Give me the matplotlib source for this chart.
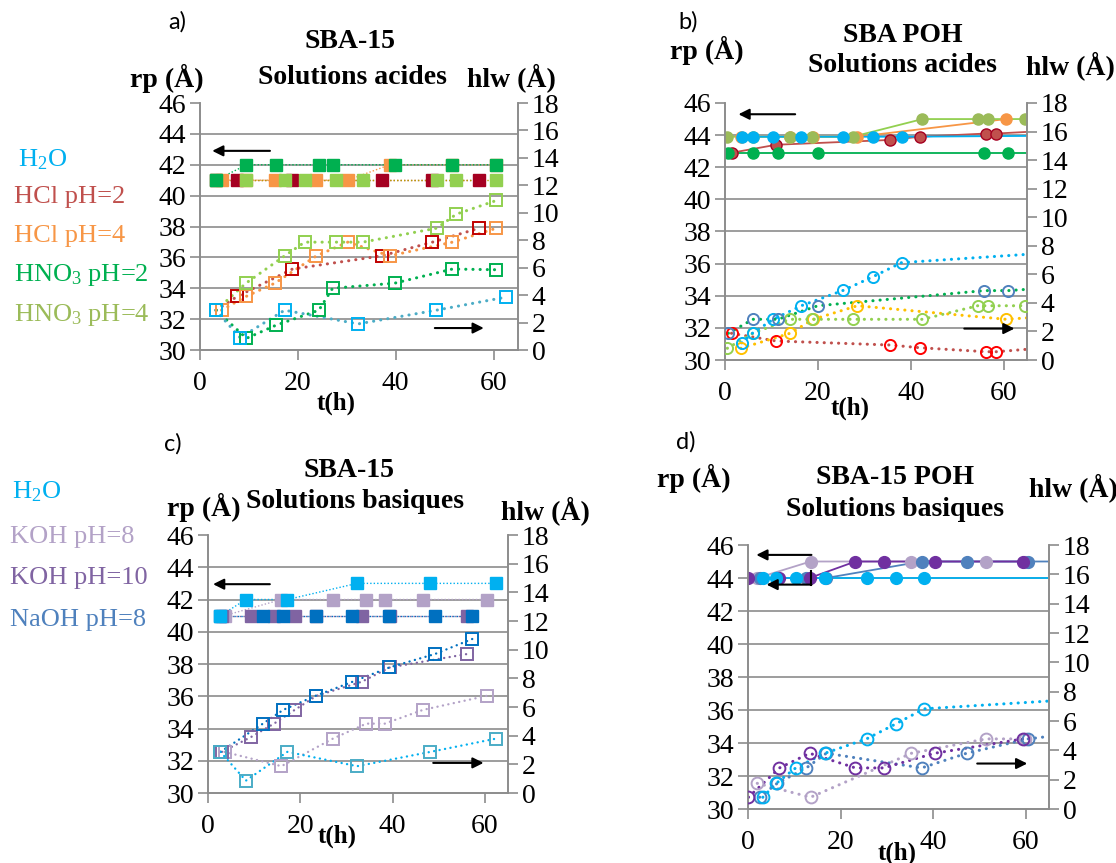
import matplotlib
matplotlib.use('Agg')
import matplotlib.pyplot as plt

plt.rcParams['font.family'] = ['Liberation Serif', 'DejaVu Serif']
plt.rcParams['font.serif'] = ['Liberation Serif', 'DejaVu Serif']
plt.rcParams['mathtext.fontset'] = 'custom'
plt.rcParams['mathtext.rm'] = 'Liberation Serif'
plt.rcParams['mathtext.it'] = 'Liberation Serif:italic'
plt.rcParams['mathtext.bf'] = 'Liberation Serif:bold'

# ---------------- DATA ----------------
T_MAX = 65
RP_TICKS = list(range(30, 47, 2))
HLW_TICKS = list(range(0, 19, 2))
T_TICKS = [0, 20, 40, 60]

# Panel a : SBA-15, acid solutions (squares)
a_h2o_t = [3.2, 8.2, 17.3, 32.3, 48.3, 62.5]
a_h2o_hlw = [2.9, 0.9, 2.9, 1.9, 2.9, 3.85]
a_hcl2_t = [3.3, 7.6, 18.9, 37.1, 47.5, 57.1]
a_hcl2_rp = [41, 41, 41, 41, 41, 41]
a_hcl2_hlw = [2.9, 3.9, 5.9, 6.86, 7.86, 8.88]
a_hcl4_t = [4.4, 9.4, 15.3, 23.8, 30.2, 38.8, 51.6, 60.6]
a_hcl4_rp = [41, 41, 41, 41, 41, 42, 42, 42]
a_hcl4_hlw = [2.9, 3.9, 4.87, 6.86, 7.86, 6.86, 7.86, 8.88]
a_hno32_t = [3.3, 9.5, 15.5, 24.3, 27.1, 39.8, 51.6, 60.6]
a_hno32_rp = [41, 42, 42, 42, 42, 42, 42, 42]
a_hno32_hlw = [2.9, 0.85, 1.8, 2.9, 4.5, 4.87, 5.9, 5.85]
a_hno34_t = [3.3, 9.4, 17.3, 21.4, 27.9, 33.3, 48.4, 52.4, 60.6]
a_hno34_rp = [41, 41, 41, 41, 41, 41, 41, 41, 41]
a_hno34_hlw = [2.9, 4.87, 6.86, 7.86, 7.86, 7.86, 8.88, 9.9, 10.9]

# Panel b : SBA POH, acid solutions (circles); *_end = trend value at T_MAX
b_h2o_t = [3.6, 6.0, 10.4, 16.4, 25.4, 31.9, 38.0]
b_h2o_rp = [43.9, 43.9, 43.9, 43.9, 43.9, 43.9, 43.9]
b_h2o_rp_end = 43.95
b_h2o_hlw = [1.2, 1.9, 2.85, 3.8, 4.87, 5.84, 6.82]
b_h2o_hlw_end = 7.4
b_hcl2_t = [1.4, 11.0, 35.5, 41.9, 56.2, 58.4]
b_hcl2_rp = [42.9, 43.4, 43.7, 43.9, 44.1, 44.1]
b_hcl2_rp_end = 44.2
b_hcl2_hlw = [1.87, 1.33, 1.05, 0.86, 0.58, 0.58]
b_hcl2_hlw_end = 0.75
b_hcl4_t = [3.4, 14.0, 19.0, 28.5, 60.5]
b_hcl4_rp = [43.9, 43.9, 43.9, 43.9, 45.0]
b_hcl4_hlw = [0.82, 1.87, 2.85, 3.8, 2.85]
b_hcl4_hlw_end = 2.95
b_hno32_t = [0.7, 6.0, 11.4, 20.0, 55.8, 60.9]
b_hno32_rp = [42.9, 42.9, 42.9, 42.9, 42.9, 42.9]
b_hno32_rp_end = 42.9
b_hno32_hlw = [1.87, 2.85, 2.85, 3.8, 4.86, 4.86]
b_hno32_hlw_end = 4.95
b_hno34_t = [0.5, 6.0, 13.9, 18.7, 27.5, 42.5, 54.4, 56.6, 64.5]
b_hno34_rp = [43.9, 43.9, 43.9, 43.9, 43.9, 45.0, 45.0, 45.0, 45.0]
b_hno34_hlw = [0.82, 1.87, 2.85, 2.85, 2.85, 2.85, 3.8, 3.8, 3.8]

# Panel c : SBA-15, basic solutions (squares)
c_h2o_t = [2.7, 8.2, 17.2, 32.3, 48.2, 62.5]
c_h2o_rp = [41, 42, 42, 43, 43, 43]
c_h2o_hlw = [2.87, 0.86, 2.87, 1.87, 2.87, 3.8]
c_koh8_t = [3.6, 15.9, 27.1, 34.3, 38.3, 46.6, 60.4]
c_koh8_rp = [41, 42, 42, 42, 42, 42, 42]
c_koh8_hlw = [2.87, 1.87, 3.8, 4.84, 4.84, 5.8, 6.78]
c_koh10_t = [3.0, 9.3, 14.3, 18.8, 23.5, 33.3, 39.4, 56.2]
c_koh10_rp = [41, 41, 41, 41, 41, 41, 41, 41]
c_koh10_hlw = [2.87, 3.9, 4.84, 5.8, 6.78, 7.76, 8.76, 9.7]
c_naoh8_t = [2.7, 11.9, 16.3, 23.3, 31.3, 39.3, 49.2, 57.3]
c_naoh8_rp = [41, 41, 41, 41, 41, 41, 41, 41]
c_naoh8_hlw = [2.87, 4.84, 5.8, 6.78, 7.76, 8.76, 9.7, 10.75]

# Panel d : SBA-15 POH, basic solutions (circles)
d_h2o_t = [3.2, 6.1, 10.3, 16.6, 25.6, 31.9, 38.0]
d_h2o_rp = [44, 44, 44, 44, 44, 44, 44]
d_h2o_rp_end = 44
d_h2o_hlw = [0.8, 1.75, 2.8, 3.8, 4.78, 5.8, 6.83]
d_h2o_hlw_end = 7.36
d_koh10_t = [0.1, 6.8, 13.3, 23.2, 29.3, 40.3, 59.4]
d_koh10_rp = [44, 44, 44, 45, 45, 45, 45]
d_koh10_hlw = [0.8, 2.8, 3.8, 2.8, 2.8, 3.8, 4.78]
d_koh8_t = [2.0, 13.5, 35.3, 51.4, 59.8]
d_koh8_rp = [44, 45, 45, 45, 45]
d_koh8_hlw = [1.75, 0.8, 3.8, 4.78, 4.78]
d_naoh8_t = [2.5, 6.3, 12.6, 16.9, 37.5, 47.2, 60.5]
d_naoh8_rp = [44, 44, 44, 44, 45, 45, 45]
d_naoh8_rp_end = 45
d_naoh8_hlw = [0.8, 1.75, 2.8, 3.8, 2.8, 3.8, 4.78]
d_naoh8_hlw_end = 4.95

# Arrows (axis, y, x_from, x_to)
a_arrows = [('rp', 42.9, 14.3, 2.5), ('hlw', 1.6, 48, 58)]
b_arrows = [('rp', 45.3, 15.1, 2.9), ('hlw', 2.2, 51.5, 62.3)]
c_arrows = [('rp', 42.95, 13.4, 1.1), ('hlw', 2.1, 48.8, 59.7)]
d_arrows = [('rp', 45.4, 13.7, 1.8), ('rp', 43.6, 13.7, 4.0), ('hlw', 3.1, 49.5, 60.3)]

# ---------------- FIGURE ----------------
W, H = 1116, 863
fig = plt.figure(figsize=(W / 100, H / 100), dpi=100)
GRAY = '#8c8c8c'
SERIF = ['Liberation Serif', 'DejaVu Serif']


def ftext(x, y, s, **kw):
    kw.setdefault('ha', 'center')
    kw.setdefault('va', 'center')
    kw.setdefault('family', SERIF)
    fig.text(x / W, 1 - y / H, s, **kw)


def setup(l, t, r, b):
    ax = fig.add_axes([l / W, 1 - b / H, (r - l) / W, (b - t) / H])
    ax.set_xlim(0, T_MAX)
    ax.set_ylim(RP_TICKS[0], RP_TICKS[-1])
    ax2 = ax.twinx()
    ax2.set_ylim(HLW_TICKS[0], HLW_TICKS[-1])
    ax.set_yticks(RP_TICKS)
    ax.set_yticklabels([str(v) for v in RP_TICKS], family=SERIF)
    ax2.set_yticks(HLW_TICKS)
    ax2.set_yticklabels([str(v) for v in HLW_TICKS], family=SERIF)
    ax.set_xticks(T_TICKS)
    ax.set_xticklabels([str(v) for v in T_TICKS], family=SERIF)
    for a in (ax, ax2):
        for s in a.spines.values():
            s.set_color(GRAY)
            s.set_linewidth(1.2)
        a.spines['top'].set_visible(False)
        a.tick_params(axis='both', direction='out', length=7, width=1.2,
                      color=GRAY, labelsize=20, pad=3)
    ax.tick_params(axis='x', pad=8)
    ax.hlines(RP_TICKS[1:-1], 0, T_MAX, color=GRAY, lw=1.2, zorder=0.5)
    return ax, ax2


def dotted(lw):
    return dict(linestyle=(0, (0.05, 2.3)), lw=lw, dash_capstyle='round')


def series(ax, ax2, t, rp, hlw, color, marker, rp_line, hlw_line,
           open_color=None, rp_end=None, hlw_end=None, filled_edge=None,
           rp_ls='dotted', hlw_lw=2.2, ms=9):
    oc = open_color or color
    if rp is not None:
        tt, yy = list(t), list(rp)
        if rp_end is not None:
            tt.append(T_MAX); yy.append(rp_end)
        if rp_ls == 'dotted':
            ax.plot(tt, yy, color=rp_line, linestyle=(0, (1, 1.5)), lw=1.0, zorder=2)
        else:
            ax.plot(tt, yy, color=rp_line, lw=1.3, zorder=2)
        ax.plot(t, rp, linestyle='none', marker=marker, ms=ms, color=color,
                mec=filled_edge or color, mew=1, zorder=3)
    if hlw is not None:
        tt, yy = list(t), list(hlw)
        if hlw_end is not None:
            tt.append(T_MAX); yy.append(hlw_end)
        ax2.plot(tt, yy, color=hlw_line, zorder=2, **dotted(hlw_lw))
        ax2.plot(t, hlw, linestyle='none', marker=marker, ms=ms, mfc='none',
                 mec=oc, mew=1.4, zorder=3)


def arrows(ax, ax2, lst):
    for which, y, x0, x1 in lst:
        a = ax if which == 'rp' else ax2
        a.annotate('', xy=(x1, y), xytext=(x0, y),
                   arrowprops=dict(arrowstyle='-|>', color='k', lw=1.5,
                                   mutation_scale=16, shrinkA=0, shrinkB=0),
                   zorder=5)


# ---- panel a ----
ax, ax2 = setup(200, 103, 518, 350)
series(ax, ax2, a_hcl2_t, a_hcl2_rp, a_hcl2_hlw, '#A50021', 's', '#C0504D', '#C0504D',
       open_color='#C00000')
series(ax, ax2, a_hcl4_t, a_hcl4_rp, a_hcl4_hlw, '#F79646', 's', '#F79646', '#F79646')
series(ax, ax2, a_hno34_t, a_hno34_rp, a_hno34_hlw, '#92D050', 's', '#B8A000', '#92D050',
       open_color='#92D050')
series(ax, ax2, a_hno32_t, a_hno32_rp, a_hno32_hlw, '#00B050', 's', '#00B050', '#00B050')
series(ax, ax2, a_h2o_t, None, a_h2o_hlw, '#00B0F0', 's', '#00B0F0', '#4BACC6',
       open_color='#00B0F0')
arrows(ax, ax2, a_arrows)

# ---- panel b ----
ax, ax2 = setup(725, 103, 1027, 360)
series(ax, ax2, b_hcl2_t, b_hcl2_rp, b_hcl2_hlw, '#C0504D', 'o', '#C0504D', '#C0504D',
       open_color='#FF0000', rp_end=b_hcl2_rp_end, hlw_end=b_hcl2_hlw_end,
       filled_edge='#A50021', rp_ls='solid', ms=8)
series(ax, ax2, b_hcl4_t, b_hcl4_rp, b_hcl4_hlw, '#F79646', 'o', '#F79646', '#FFC000',
       open_color='#FFC000', hlw_end=b_hcl4_hlw_end, rp_ls='solid', ms=8)
series(ax, ax2, b_hno34_t, b_hno34_rp, b_hno34_hlw, '#9BBB59', 'o', '#92D050', '#92D050',
       open_color='#92D050', rp_ls='solid', ms=8)
series(ax, ax2, b_h2o_t, b_h2o_rp, b_h2o_hlw, '#00B0F0', 'o', '#00B0F0', '#00B0F0',
       rp_end=b_h2o_rp_end, hlw_end=b_h2o_hlw_end, rp_ls='solid', ms=8)
series(ax, ax2, b_hno32_t, b_hno32_rp, b_hno32_hlw, '#00B050', 'o', '#00B050', '#00B050',
       open_color='#4F81BD', rp_end=b_hno32_rp_end, hlw_end=b_hno32_hlw_end,
       rp_ls='solid', ms=8)
arrows(ax, ax2, b_arrows)

# ---- panel c ----
ax, ax2 = setup(208, 535, 508, 793)
series(ax, ax2, c_koh8_t, c_koh8_rp, c_koh8_hlw, '#B3A2C7', 's', '#B3A2C7', '#B3A2C7',
       hlw_lw=1.7)
series(ax, ax2, c_koh10_t, c_koh10_rp, c_koh10_hlw, '#8064A2', 's', '#8064A2', '#8064A2',
       hlw_lw=1.7)
series(ax, ax2, c_naoh8_t, c_naoh8_rp, c_naoh8_hlw, '#0070C0', 's', '#0070C0', '#0070C0',
       hlw_lw=1.7)
series(ax, ax2, c_h2o_t, c_h2o_rp, c_h2o_hlw, '#00B0F0', 's', '#00B0F0', '#00B0F0',
       open_color='#4BACC6', hlw_lw=1.7)
arrows(ax, ax2, c_arrows)

# ---- panel d ----
ax, ax2 = setup(748, 545, 1049, 809)
series(ax, ax2, d_koh8_t, d_koh8_rp, d_koh8_hlw, '#B3A2C7', 'o', '#B3A2C7', '#B3A2C7',
       rp_ls='solid', ms=8.5)
series(ax, ax2, d_naoh8_t, d_naoh8_rp, d_naoh8_hlw, '#4F81BD', 'o', '#4F81BD', '#4F81BD',
       rp_end=d_naoh8_rp_end, hlw_end=d_naoh8_hlw_end, rp_ls='solid', ms=8.5)
series(ax, ax2, d_koh10_t, d_koh10_rp, d_koh10_hlw, '#7030A0', 'o', '#7030A0', '#7030A0',
       rp_ls='solid', ms=8.5)
series(ax, ax2, d_h2o_t, d_h2o_rp, d_h2o_hlw, '#00B0F0', 'o', '#00B0F0', '#00B0F0',
       rp_end=d_h2o_rp_end, hlw_end=d_h2o_hlw_end, rp_ls='solid', ms=8.5)
arrows(ax, ax2, d_arrows)
ax.plot([d_arrows[0][2], d_arrows[1][2]], [44.4, d_arrows[1][1]], color='k', lw=1.5, zorder=5)

# ---------------- TEXT ----------------
SANS = ['Lato', 'DejaVu Sans']
for x, y, s in [(177, 22, 'a)'), (688, 22, 'b)'), (173, 444, 'c)'), (686, 442, 'd)')]:
    ftext(x, y, s, fontsize=17, family=SANS)

bold = dict(fontsize=20, fontweight='bold')
ftext(350, 42, 'SBA-15', **bold)
ftext(352, 78, 'Solutions acides', **bold)
ftext(167, 78, 'rp (Å)', **bold)
ftext(511, 78, 'hlw (Å)', **bold)

ftext(903, 36, 'SBA POH', **bold)
ftext(902, 65, 'Solutions acides', **bold)
ftext(707, 50, 'rp (Å)', **bold)
ftext(1070, 66, 'hlw (Å)', **bold)

ftext(349, 470, 'SBA-15', **bold)
ftext(355, 502, 'Solutions basiques', **bold)
ftext(204, 507, 'rp (Å)', **bold)
ftext(545, 511, 'hlw (Å)', **bold)

ftext(895, 477, 'SBA-15 POH', **bold)
ftext(895, 509, 'Solutions basiques', **bold)
ftext(694, 478, 'rp (Å)', **bold)
ftext(1073, 488, 'hlw (Å)', **bold)

th = dict(fontsize=18, fontweight='bold')
ftext(336, 403, 't(h)', **th)
ftext(850, 408, 't(h)', **th)
ftext(337, 836, 't(h)', **th)
ftext(897, 853, 't(h)', **th)

leg = dict(fontsize=19, ha='left')
ftext(18, 160, r'H$_2$O', color='#00B0F0', **leg)
ftext(14, 197, 'HCl pH=2', color='#C0504D', **leg)
ftext(14, 236, 'HCl pH=4', color='#F79646', **leg)
ftext(14, 275, r'HNO$_3$ pH=2', color='#00B050', **leg)
ftext(14, 315, r'HNO$_3$ pH=4', color='#9BBB59', **leg)

ftext(12, 492, r'H$_2$O', color='#00B0F0', **leg)
ftext(10, 537, 'KOH pH=8', color='#B3A2C7', **leg)
ftext(10, 578, 'KOH pH=10', color='#8064A2', **leg)
ftext(10, 620, 'NaOH pH=8', color='#4F81BD', **leg)

fig.savefig('out.png', dpi=100)
